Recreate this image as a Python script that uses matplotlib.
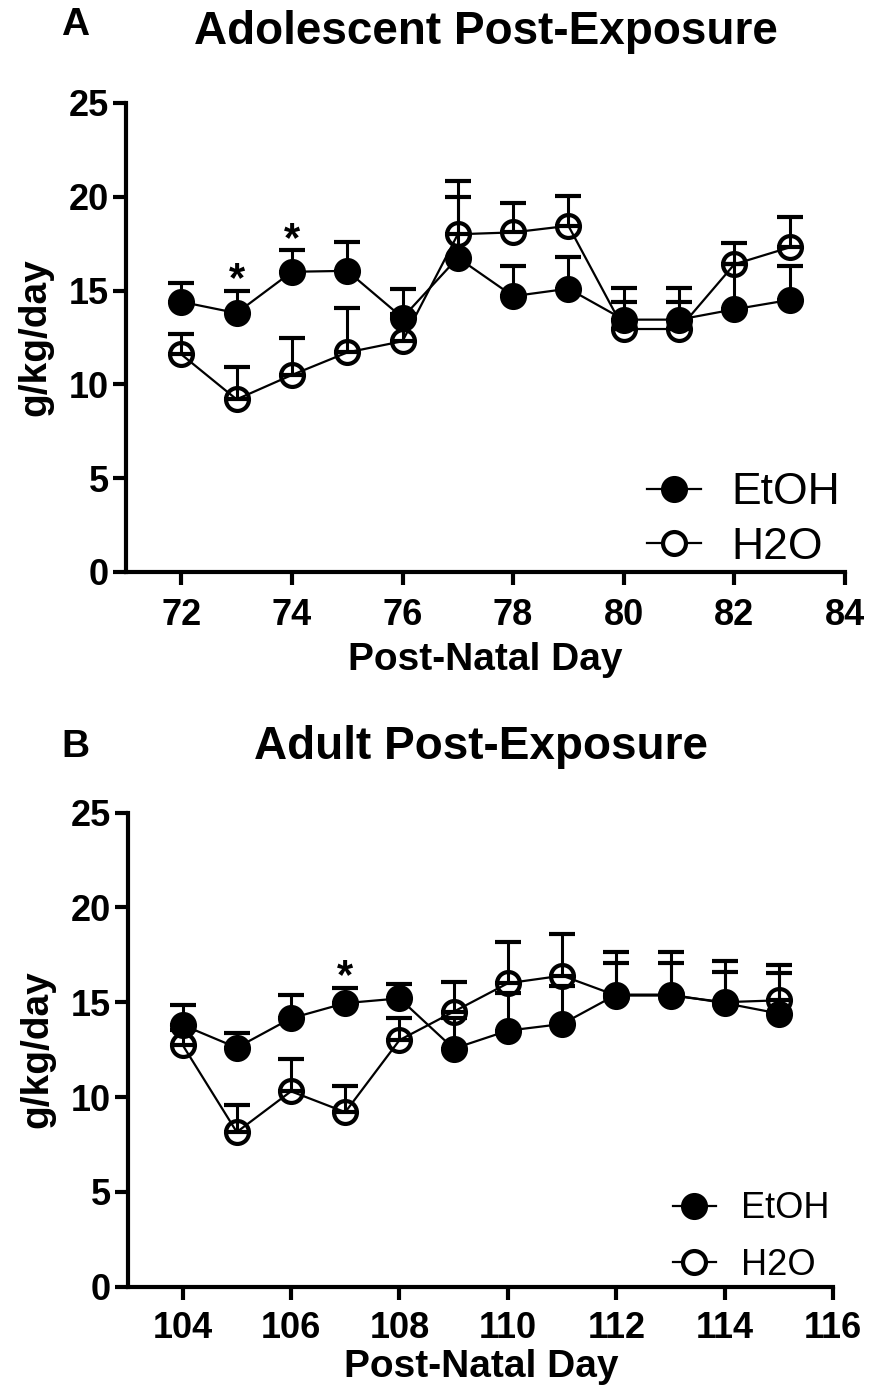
#%% Library
import numpy as np
import matplotlib
matplotlib.use('Agg')
import matplotlib.pyplot as plt
from matplotlib.lines import Line2D

plt.rcParams['font.family'] = ['Liberation Sans', 'DejaVu Sans']

#%% data
days_a = [72, 73, 74, 75, 76, 77, 78, 79, 80, 81, 82, 83]
etoh_a = [14.4, 13.8, 16.0, 16.05, 13.55, 16.75, 14.7, 15.1, 13.45, 13.45, 14.0, 14.5]
etoh_a_sem = [1.0, 1.2, 1.15, 1.55, 1.55, 3.25, 1.6, 1.7, 1.7, 1.7, 2.4, 1.8]
h2o_a = [11.6, 9.2, 10.5, 11.7, 12.3, 18.0, 18.1, 18.45, 12.95, 12.95, 16.4, 17.3]
h2o_a_sem = [1.1, 1.75, 1.95, 2.35, 1.45, 2.85, 1.55, 1.6, 1.45, 1.45, 1.15, 1.6]
stars_a = [73, 74]

days_b = [104, 105, 106, 107, 108, 109, 110, 111, 112, 113, 114, 115]
etoh_b = [13.8, 12.6, 14.15, 14.95, 15.2, 12.55, 13.5, 13.85, 15.4, 15.4, 14.95, 14.4]
etoh_b_sem = [1.05, 0.8, 1.25, 0.8, 0.75, 1.6, 2.0, 2.0, 2.27, 2.27, 2.2, 2.55]
h2o_b = [12.75, 8.15, 10.3, 9.2, 13.0, 14.5, 16.0, 16.4, 15.35, 15.35, 15.0, 15.1]
h2o_b_sem = [0.8, 1.45, 1.7, 1.4, 1.15, 1.55, 2.15, 2.2, 1.7, 1.7, 1.6, 1.45]
stars_b = [107]

yticks = [0, 5, 10, 15, 20, 25]

#%% functions
def panel(ax, days, etoh, etoh_sem, h2o, h2o_sem, stars, xlim, xticks,
          leg_size, leg_space, xpad, xlabpad):
    ms = 16.5
    for y, sem, face in [(h2o, h2o_sem, 'none'), (etoh, etoh_sem, 'black')]:
        ax.errorbar(days, y, yerr=[np.zeros(len(sem)), sem], fmt='-o', color='black',
                    ms=ms, mfc=face, mec='black', mew=3.0, lw=1.6, elinewidth=2.2,
                    capsize=9.5, capthick=2.2, clip_on=False)
    # significance marks sit just above the EtOH error bar
    for d in stars:
        i = days.index(d)
        ax.text(d, etoh[i] + etoh_sem[i] - 0.5, '*', ha='center', va='bottom',
                fontsize=30, fontweight='bold')

    ax.set_xlim(*xlim)
    ax.set_ylim(0, 25)
    ax.set_xticks(xticks)
    ax.set_yticks(yticks)
    for s in ['top', 'right']:
        ax.spines[s].set_visible(False)
    for s in ['left', 'bottom']:
        ax.spines[s].set_linewidth(3.0)
    ax.tick_params(axis='both', width=3.0, length=9.5, labelsize=26, pad=3)
    ax.tick_params(axis='x', pad=xpad)
    for lab in ax.get_xticklabels() + ax.get_yticklabels():
        lab.set_fontweight('bold')
    ax.set_ylabel('g/kg/day', fontsize=28, fontweight='bold', labelpad=11)
    ax.set_xlabel('Post-Natal Day', fontsize=28, fontweight='bold', labelpad=xlabpad)

    handles = [Line2D([], [], color='black', lw=1.6, marker='o', ms=ms, mfc='black', mec='black', mew=3.0),
               Line2D([], [], color='black', lw=1.6, marker='o', ms=ms, mfc='white', mec='black', mew=3.0)]
    ax.legend(handles, ['EtOH', 'H2O'], loc='lower right', bbox_to_anchor=(1.0, 0.0),
              frameon=False, fontsize=leg_size, handlelength=1.2, handletextpad=0.7,
              labelspacing=leg_space, borderaxespad=0.1, borderpad=0)


#%% figure
fig = plt.figure(figsize=(8.7, 13.89), dpi=100)

ax1 = fig.add_axes([0.1448, 0.5882, 0.8264, 0.3377])
panel(ax1, days_a, etoh_a, etoh_a_sem, h2o_a, h2o_a_sem, stars_a,
      (71, 84), np.arange(72, 85, 2), 32, 0.3, 9.5, 6)

ax2 = fig.add_axes([0.1475, 0.0737, 0.8103, 0.3413])
panel(ax2, days_b, etoh_b, etoh_b_sem, h2o_b, h2o_b_sem, stars_b,
      (103, 116), np.arange(104, 117, 2), 26, 0.6, 8, 2)

fig.text(75 / 870, 1 - 25 / 1389, 'A', fontsize=28, fontweight='bold', ha='center', va='center')
fig.text(486 / 870, 1 - 32 / 1389, 'Adolescent Post-Exposure', fontsize=33, fontweight='bold',
         ha='center', va='center')
fig.text(75 / 870, 1 - 747 / 1389, 'B', fontsize=28, fontweight='bold', ha='center', va='center')
fig.text(481 / 870, 1 - 747 / 1389, 'Adult Post-Exposure', fontsize=33, fontweight='bold',
         ha='center', va='center')

fig.savefig('out.png', dpi=100)
